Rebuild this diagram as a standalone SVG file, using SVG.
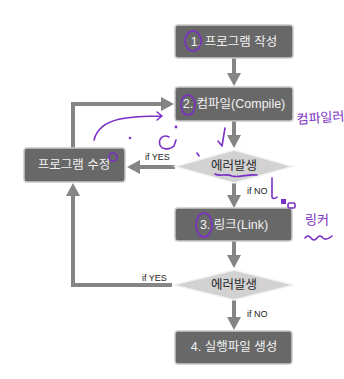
<svg xmlns="http://www.w3.org/2000/svg" width="344" height="379" viewBox="0 0 344 379">
<defs>
<style>
.box{fill:#686868;stroke:#c9c9c9;stroke-width:1.5}
.dia{fill:#d2d2d2;stroke:#f4f4f4;stroke-width:1.5}
.bt{font-family:"Liberation Sans","Noto Sans CJK KR",sans-serif;font-size:12.5px;fill:#f2f2f2;text-anchor:middle;dominant-baseline:central}
.dt{font-family:"Liberation Sans","Noto Sans CJK KR",sans-serif;font-size:12.5px;fill:#2a2a2a;text-anchor:middle;dominant-baseline:central}
.lab{font-family:"Liberation Sans","Noto Sans CJK KR",sans-serif;font-size:9px;fill:#222}
.ln{fill:none;stroke:#858585;stroke-width:4}
.ah{fill:#858585}
.pen{fill:none;stroke:#7a2fc6;stroke-width:1.6;stroke-linecap:round;stroke-linejoin:round}
.pt{font-family:"Noto Sans CJK KR",sans-serif;fill:#7a2fc6;font-size:13px}
</style>
</defs>
<rect width="344" height="379" fill="#ffffff"/>
<g id="connectors">
<line class="ln" x1="234" y1="58" x2="234" y2="74"/>
<polygon class="ah" points="227,73 241,73 234,86"/>
<line class="ln" x1="234" y1="121" x2="234" y2="136"/>
<polygon class="ah" points="227,135 241,135 234,148"/>
<line class="ln" x1="234" y1="183" x2="234" y2="196"/>
<polygon class="ah" points="227,195 241,195 234,208"/>
<line class="ln" x1="234" y1="241" x2="234" y2="256"/>
<polygon class="ah" points="227,255 241,255 234,268"/>
<line class="ln" x1="234" y1="300" x2="234" y2="318"/>
<polygon class="ah" points="227,317 241,317 234,330"/>
<line class="ln" x1="175" y1="167" x2="139" y2="167"/>
<polygon class="ah" points="140,160 140,174 127,167"/>
<polyline class="ln" points="73,148 73,104 162,104"/>
<polygon class="ah" points="161,97 161,111 174,104"/>
<polyline class="ln" points="172,285 73,285 73,195"/>
<polygon class="ah" points="66,196 80,196 73,183"/>
<text class="lab" x="145" y="160">if YES</text>
<text class="lab" x="142" y="281">if YES</text>
<text class="lab" x="247" y="194">if NO</text>
<text class="lab" x="247" y="317">if NO</text>
</g>
<g id="n1"><rect class="box" x="175" y="25" width="118" height="33" rx="3"/><text class="bt" x="234" y="42">1. 프로그램 작성</text></g>
<g id="n2"><rect class="box" x="175" y="87" width="118" height="34" rx="3"/><text class="bt" x="234" y="104">2. 컴파일(Compile)</text></g>
<g id="d1"><polygon class="dia" points="175,166.5 234,150 293,166.5 234,183"/><text class="dt" x="234" y="166">에러발생</text></g>
<g id="fix"><rect class="box" x="24" y="148" width="101" height="34" rx="3"/><text class="bt" x="74" y="165">프로그램 수정</text></g>
<g id="n3"><rect class="box" x="175" y="208" width="117" height="33" rx="3"/><text class="bt" x="234" y="225">3. 링크(Link)</text></g>
<g id="d2"><polygon class="dia" points="173,285 234,270 294,285 234,300"/><text class="dt" x="234" y="285">에러발생</text></g>
<g id="n4"><rect class="box" x="175" y="331" width="117" height="33" rx="3"/><text class="bt" x="234" y="347">4. 실행파일 생성</text></g>
<g id="annotations">
<ellipse class="pen" cx="193" cy="41" rx="8" ry="10"/>
<ellipse class="pen" cx="188" cy="105" rx="7" ry="10"/>
<ellipse class="pen" cx="204" cy="225" rx="8" ry="12"/>
<path class="pen" d="M94,140 C97,128 106,122 120,119 C135,116 150,116 162,116 M157,112 L162,116 L157,120"/>
<circle cx="130" cy="138" r="1.3" fill="#7a2fc6"/>
<path class="pen" d="M169,137 C163,134 158,139 160,145 C162,150 170,150 174,146 L176,140"/>
<circle cx="176" cy="127" r="1.4" fill="#7a2fc6"/>
<circle class="pen" cx="113" cy="157" r="4"/>
<path class="pen" d="M225,128 L222,146 L218,141"/>
<path class="pen" d="M197,153 L199,156"/>
<path class="pen" d="M215,174 C220,177 226,173 232,176 C238,178 246,174 257,175"/>
<text class="pt" x="297" y="124" transform="rotate(-4 297 124)">컴파일러</text>
<path class="pen" d="M272,178 L272,197 C272,199 275,199 277,197"/>
<rect x="281" y="199" width="5" height="5" fill="#7a2fc6"/>
<rect class="pen" x="288" y="203" width="7" height="5" rx="1.5"/>
<text class="pt" x="305" y="224" font-size="14">링커</text>
<path class="pen" d="M305,238 Q308,234 311,238 Q314,242 317,238 Q320,234 323,238 Q326,241 332,236"/>
</g>
</svg>
